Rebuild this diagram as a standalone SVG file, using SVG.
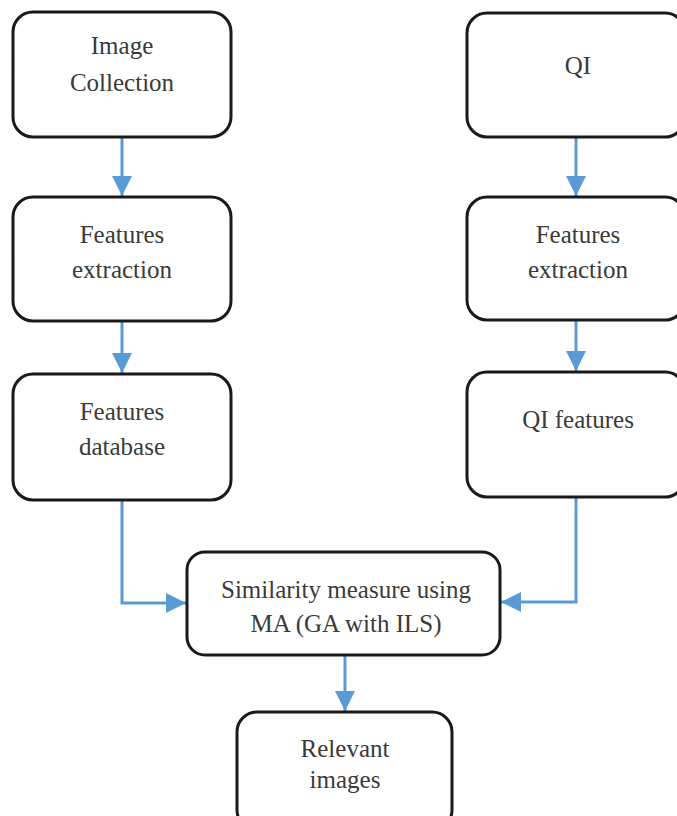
<svg xmlns="http://www.w3.org/2000/svg" width="677" height="816" viewBox="0 0 677 816">
  <defs>
    <style>
      .box { fill: #ffffff; stroke: #1a1a1a; stroke-width: 3; }
      .lbl { font-family: 'Liberation Serif', 'Times New Roman', serif; font-size: 25px; fill: #3a3a3a; text-anchor: middle; }
      .wire { fill: none; stroke: #5b9bd5; stroke-width: 3; }
    </style>
    <marker id="arrow" markerUnits="userSpaceOnUse" markerWidth="20" markerHeight="20" refX="20" refY="10" orient="auto">
      <path d="M0,0 L20,10 L0,20 Z" fill="#5b9bd5"/>
    </marker>
  </defs>
  <rect width="677" height="816" fill="#ffffff"/>

  <!-- connectors -->
  <g id="connectors">
    <path class="wire" d="M122,137 V196" marker-end="url(#arrow)"/>
    <path class="wire" d="M122,321 V373" marker-end="url(#arrow)"/>
    <path class="wire" d="M576,137 V196" marker-end="url(#arrow)"/>
    <path class="wire" d="M576,320 V371" marker-end="url(#arrow)"/>
    <path class="wire" d="M122,500 V603 H186" marker-end="url(#arrow)"/>
    <path class="wire" d="M576,497 V602 H501" marker-end="url(#arrow)"/>
    <path class="wire" d="M345,655 V711" marker-end="url(#arrow)"/>
  </g>

  <!-- left column -->
  <g id="image-collection">
    <rect class="box" x="13" y="12" width="218" height="125" rx="20"/>
    <text class="lbl" x="122" y="54">Image</text>
    <text class="lbl" x="122" y="91">Collection</text>
  </g>
  <g id="features-extraction-left">
    <rect class="box" x="13" y="197" width="218" height="124" rx="20"/>
    <text class="lbl" x="122" y="243">Features</text>
    <text class="lbl" x="122" y="278">extraction</text>
  </g>
  <g id="features-database">
    <rect class="box" x="13" y="374" width="218" height="126" rx="20"/>
    <text class="lbl" x="122" y="420">Features</text>
    <text class="lbl" x="122" y="455">database</text>
  </g>

  <!-- right column -->
  <g id="qi">
    <rect class="box" x="467" y="13" width="218" height="124" rx="20"/>
    <text class="lbl" x="578" y="74">QI</text>
  </g>
  <g id="features-extraction-right">
    <rect class="box" x="467" y="197" width="218" height="123" rx="20"/>
    <text class="lbl" x="578" y="243">Features</text>
    <text class="lbl" x="578" y="278">extraction</text>
  </g>
  <g id="qi-features">
    <rect class="box" x="467" y="372" width="218" height="125" rx="20"/>
    <text class="lbl" x="578" y="428">QI features</text>
  </g>

  <!-- merge and result -->
  <g id="similarity-measure">
    <rect class="box" x="187" y="552" width="313" height="103" rx="18"/>
    <text class="lbl" x="346" y="598">Similarity measure using</text>
    <text class="lbl" x="346" y="632">MA (GA with ILS)</text>
  </g>
  <g id="relevant-images">
    <rect class="box" x="237" y="712" width="215" height="118" rx="20"/>
    <text class="lbl" x="345" y="757">Relevant</text>
    <text class="lbl" x="345" y="788">images</text>
  </g>
</svg>
